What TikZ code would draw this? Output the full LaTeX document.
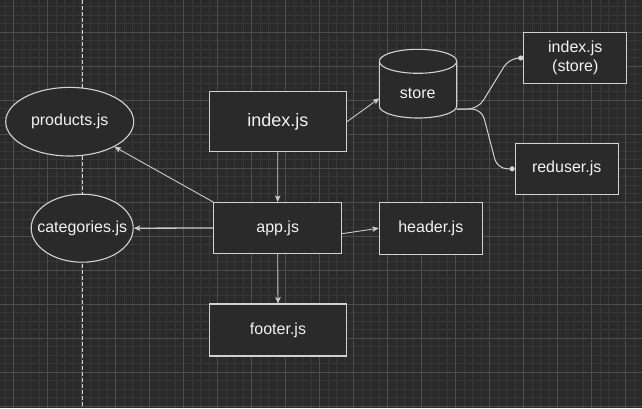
\documentclass[tikz,border=0pt]{standalone}
\usepackage{fontspec}
\setmainfont{Liberation Sans}
\usetikzlibrary{arrows.meta,shapes.geometric}
\definecolor{bg}{HTML}{2A2A2A}
\definecolor{gminor}{HTML}{373737}
\definecolor{gmajor}{HTML}{4C4C4C}
\definecolor{edgec}{HTML}{D2D2D2}
\definecolor{connc}{HTML}{CACACA}
\definecolor{txt}{HTML}{F2F2F2}
\begin{document}
\begin{tikzpicture}[x=1pt,y=-1pt,
  box/.style={draw=edgec, fill=bg, line width=1.1pt, text=txt,
    font=\fontsize{16}{18.4}\selectfont, inner sep=0pt, align=center},
  ell/.style={draw=edgec, fill=bg, line width=1.1pt, ellipse, inner sep=0pt},
  elltext/.style={text=txt, font=\fontsize{16}{18.4}\selectfont, inner sep=0pt},
  conn/.style={draw=connc, line width=0.9pt,
    -{Stealth[length=6.5pt,width=5.5pt,inset=1.5pt]}},
  dotconn/.style={draw=edgec, line width=1pt, rounded corners=10pt,
    -{Circle[length=5pt]}},
  gridminor/.style={draw=gminor, line width=0.6pt},
  gridmajor/.style={draw=gmajor, line width=0.8pt}]
\fill[bg] (0,0) rectangle (642,408);
\useasboundingbox (0,0) rectangle (642,408);
% grid
\foreach \i in {-1,...,74} \draw[gridminor] ({13.3+8.5*\i},0) -- ({13.3+8.5*\i},408);
\foreach \j in {1,...,48} \draw[gridminor] (0,{-2+8.5*\j}) -- (642,{-2+8.5*\j});
\foreach \i in {0,...,18} \draw[gridmajor] ({13.3+34*\i},0) -- ({13.3+34*\i},408);
\foreach \j in {1,...,12} \draw[gridmajor] (0,{-2+34*\j}) -- (642,{-2+34*\j});
% dashed divider
\draw[draw=edgec, line width=0.9pt, dash pattern=on 4pt off 2pt] (82,0) -- (82,408);
% nodes
\node[box, minimum width=137pt, minimum height=60pt, font=\fontsize{18}{20}\selectfont] (idx) at (277.8,121.8) {index.js};
\node[box, minimum width=128pt, minimum height=51pt] (app) at (277.7,228) {app.js};
\node[box, minimum width=137pt, minimum height=52pt] (footer) at (278,330) {footer.js};
\node[box, minimum width=103pt, minimum height=52pt] (header) at (430.8,228.2) {header.js};
\node[box, minimum width=103pt, minimum height=51pt] (idxstore) at (575.3,58) {index.js\\(store)};
\node[box, minimum width=103pt, minimum height=51pt] (reduser) at (566.7,168.8) {reduser.js};
\node[ell, minimum width=128pt, minimum height=68.6pt,
  label={[elltext]center:products.js}] (products) at (69.7,121.7) {};
\node[ell, minimum width=102pt, minimum height=68pt,
  label={[elltext]center:categories.js}] (categories) at (82.2,228.2) {};
% store cylinder
\path[fill=bg, draw=edgec, line width=1.1pt] (379.3,61.3) -- (379.3,106)
  arc[start angle=180, end angle=0, x radius=38.7, y radius=12]
  -- (456.7,61.3)
  arc[start angle=0, end angle=-180, x radius=38.7, y radius=12] -- cycle;
\draw[draw=edgec, line width=1.1pt] (379.3,61.3)
  arc[start angle=180, end angle=0, x radius=38.7, y radius=12];
\node[text=txt, font=\fontsize{16}{18.4}\selectfont, inner sep=0pt] (store) at (417.7,93.3) {store};
\coordinate (storein) at (379.3,98.3);
\coordinate (storeout) at (456.7,109);
% connectors
\draw[conn] (idx.south) -- (app.north);
\draw[conn] (app.south) -- (footer.north);
\draw[conn, line width=1.3pt] (app.west) -- (categories.east);
\draw[conn] (app.north west) -- (products);
\draw[conn] (app.-5.6) -- (header.west);
\draw[conn] (idx.east) -- (storein);
\draw[dotconn] (storeout) -- (478,109) -- (509.3,58) -- (idxstore.west);
\draw[dotconn] (storeout) -- (481.7,109) -- (497.3,168.8) -- (reduser.west);
\end{tikzpicture}
\end{document}
